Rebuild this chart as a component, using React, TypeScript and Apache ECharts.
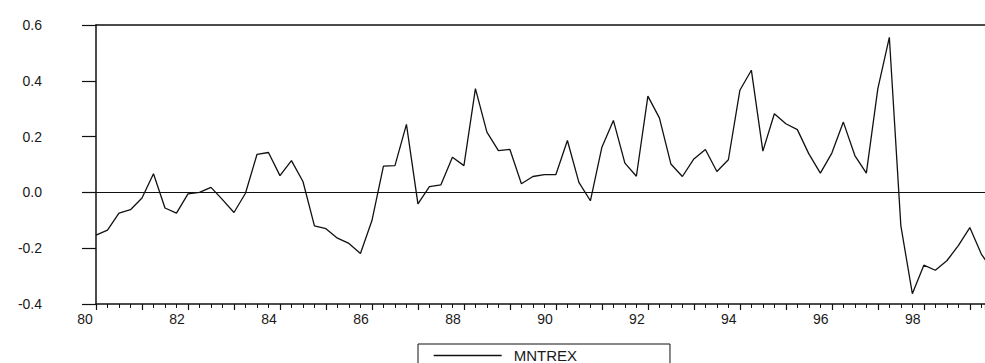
import React, { useEffect, useRef } from "react";
import * as echarts from "echarts";

// Quarterly series starting 1980Q1
const startYear = 80;
const seriesName = "MNTREX";
const values: number[] = [
  -0.153, -0.135, -0.074, -0.062, -0.02, 0.067, -0.056, -0.074,
  -0.005, 0.0, 0.018, -0.026, -0.072, -0.003, 0.136, 0.143,
  0.06, 0.114, 0.039, -0.12, -0.13, -0.164, -0.183, -0.219,
  -0.101, 0.094, 0.096, 0.244, -0.041, 0.021, 0.027, 0.126,
  0.096, 0.372, 0.216, 0.15, 0.154, 0.031, 0.057, 0.064,
  0.064, 0.186, 0.036, -0.03, 0.162, 0.258, 0.105, 0.058,
  0.345, 0.267, 0.102, 0.057, 0.12, 0.154, 0.075, 0.117,
  0.366, 0.438, 0.148, 0.282, 0.246, 0.225, 0.138, 0.069,
  0.141, 0.252, 0.132, 0.069, 0.372, 0.556, -0.119, -0.363,
  -0.261, -0.279, -0.245, -0.191, -0.126, -0.221, -0.28,
];
const yTicks = [-0.4, -0.2, 0.0, 0.2, 0.4, 0.6];
const xMin = 80;
const xMax = 99.33;

export default function App() {
  const ref = useRef<HTMLDivElement>(null);
  useEffect(() => {
    document.body.style.margin = "0";
    const chart = echarts.init(ref.current!, null, { renderer: "svg" });
    const font = "'Liberation Sans', Arial, sans-serif";
    const data = values.map((v, i) => [startYear + i / 4, v]);
    chart.setOption({
      animation: false,
      backgroundColor: "#fff",
      grid: { left: 96, right: 0, top: 25, bottom: 59, containLabel: false },
      legend: {
        data: [seriesName],
        left: 418,
        top: 344,
        orient: "horizontal",
        borderColor: "#111",
        borderWidth: 1,
        borderRadius: 0,
        padding: [4, 93, 8, 15],
        itemWidth: 68,
        itemHeight: 14,
        selectedMode: false,
        itemStyle: { opacity: 0 },
        lineStyle: { color: "#111", width: 1.3, opacity: 1 },
        textStyle: {
          fontFamily: font,
          fontSize: 15,
          color: "#1a1a1a",
          padding: [0, 0, 0, 7],
        },
      },
      xAxis: [
        {
          type: "value",
          min: xMin,
          max: xMax,
          interval: 1,
          position: "bottom",
          axisLine: { show: true, onZero: false, lineStyle: { color: "#111", width: 1.5 } },
          axisTick: { show: true, length: 6, inside: false, lineStyle: { color: "#111", width: 1.2 } },
          minorTick: { show: true, splitNumber: 4, length: 4, lineStyle: { color: "#111", width: 1 } },
          splitLine: { show: false },
          axisLabel: {
            show: true,
            showMaxLabel: false,
            fontFamily: font,
            fontSize: 14,
            color: "#1a1a1a",
            margin: 8,
            padding: [0, 22, 0, 0],
            formatter: (v: number) =>
              Math.round(v) % 2 === 0 ? String(Math.round(v)) : "",
          },
        },
        {
          type: "value",
          min: xMin,
          max: xMax,
          position: "top",
          axisLine: { show: true, onZero: false, lineStyle: { color: "#111", width: 1.5 } },
          axisTick: { show: false },
          axisLabel: { show: false },
          splitLine: { show: false },
        },
      ],
      yAxis: {
        type: "value",
        min: yTicks[0],
        max: yTicks[yTicks.length - 1],
        interval: 0.2,
        axisLine: { show: true, lineStyle: { color: "#111", width: 1.5 } },
        axisTick: { show: true, length: 14, lineStyle: { color: "#111", width: 1.2 } },
        splitLine: { show: false },
        axisLabel: {
          fontFamily: font,
          fontSize: 14,
          color: "#1a1a1a",
          margin: 54,
          formatter: (v: number) => v.toFixed(1),
        },
      },
      series: [
        {
          name: seriesName,
          type: "line",
          data,
          symbol: "none",
          showSymbol: false,
          clip: true,
          lineStyle: { color: "#111", width: 1.3 },
          itemStyle: { color: "#111" },
          markLine: {
            silent: true,
            symbol: "none",
            label: { show: false },
            lineStyle: { color: "#111", width: 1.2, type: "solid" },
            data: [{ yAxis: 0 }],
          },
        },
      ],
    });
    return () => chart.dispose();
  }, []);
  return <div ref={ref} style={{ width: 985, height: 363 }} />;
}
